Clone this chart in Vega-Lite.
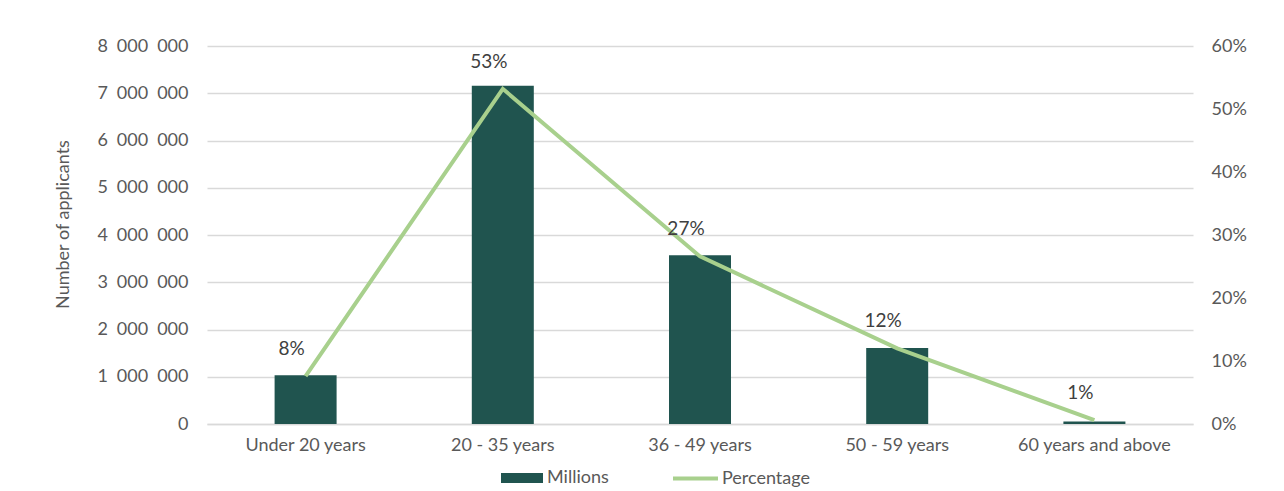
{
  "$schema": "https://vega.github.io/schema/vega-lite/v6.json",
  "width": 986,
  "height": 378,
  "autosize": {"type": "none"},
  "padding": {"left": 207, "top": 46, "right": 91, "bottom": 67},
  "background": "white",
  "config": {
    "view": {"stroke": null},
    "font": "Lato",
    "locale": {"number": {"decimal": ".", "thousands": "\u2002", "grouping": [3], "currency": ["", ""]}},
    "axis": {"labelFont": "Lato", "labelFontSize": 18, "labelColor": "#595959", "titleFont": "Lato", "titleFontWeight": "normal", "titleColor": "#595959", "ticks": false, "domain": false},
    "legend": {"title": null, "labelFont": "Lato", "labelFontSize": 18, "labelColor": "#595959", "labelOffset": 4, "padding": 0, "orient": "none"}
  },
  "data": {
    "values": [
      {"age": "Under 20 years", "applicants": 1030000, "pct": 0.076},
      {"age": "20 - 35 years", "applicants": 7160000, "pct": 0.532},
      {"age": "36 - 49 years", "applicants": 3570000, "pct": 0.266},
      {"age": "50 - 59 years", "applicants": 1610000, "pct": 0.12},
      {"age": "60 years and above", "applicants": 55000, "pct": 0.006}
    ]
  },
  "encoding": {
    "x": {
      "field": "age",
      "type": "nominal",
      "sort": null,
      "scale": {"paddingInner": 0.6856, "paddingOuter": 0.3428},
      "axis": {"title": null, "labelAngle": 0, "labelPadding": 12, "domain": true, "domainColor": "#d9d9d9", "domainWidth": 1.5}
    }
  },
  "layer": [
    {
      "mark": {"type": "bar"},
      "encoding": {
        "y": {
          "field": "applicants",
          "type": "quantitative",
          "scale": {"domain": [0, 8000000]},
          "axis": {
            "title": "Number of applicants",
            "titleFontSize": 18,
            "titleX": -135,
            "titleY": 178,
            "values": [0, 1000000, 2000000, 3000000, 4000000, 5000000, 6000000, 7000000, 8000000],
            "format": ",d",
            "labelPadding": 19,
            "grid": true,
            "gridColor": "#d9d9d9",
            "gridWidth": 1.5
          }
        },
        "fill": {
          "datum": "Millions",
          "scale": {"domain": ["Millions"], "range": ["#20544f"]},
          "legend": {
            "legendX": 294,
            "legendY": 411,
            "symbolType": "M-1,-0.24H1V0.24H-1Z",
            "symbolSize": 1764,
            "symbolStrokeWidth": 0
          }
        }
      }
    },
    {
      "layer": [
        {
          "mark": {"type": "line", "strokeWidth": 4, "strokeJoin": "miter"},
          "encoding": {
            "y": {
              "field": "pct",
              "type": "quantitative",
              "scale": {"domain": [0, 0.6]},
              "axis": {"orient": "right", "title": null, "values": [0, 0.1, 0.2, 0.3, 0.4, 0.5, 0.6], "format": ".0%", "labelPadding": 18, "grid": false}
            },
            "stroke": {
              "datum": "Percentage",
              "scale": {"domain": ["Percentage"], "range": ["#a8d08d"]},
              "legend": {
                "legendX": 464,
                "legendY": 408,
                "symbolType": "stroke",
                "symbolSize": 2025,
                "symbolStrokeWidth": 4,
                "labelOffset": 2
              }
            }
          }
        },
        {
          "mark": {"type": "text", "font": "Lato", "fontSize": 19, "color": "#404040", "dx": -14, "dy": -27, "align": "center", "baseline": "middle"},
          "encoding": {
            "y": {"field": "pct", "type": "quantitative"},
            "text": {"field": "pct", "type": "quantitative", "format": ".0%"}
          }
        }
      ]
    }
  ],
  "resolve": {"scale": {"y": "independent"}}
}
